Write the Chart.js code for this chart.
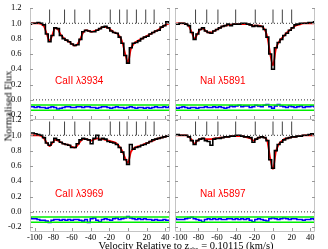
<!DOCTYPE html>
<html><head><meta charset="utf-8">
<script src="https://cdn.jsdelivr.net/npm/chart.js@4"></script>
<style>
html,body{margin:0;padding:0;background:#fff;}
body{width:328px;height:249px;position:relative;overflow:hidden;}
canvas{position:absolute;}
.lab{position:absolute;color:#f00;font:10px "Liberation Sans",Arial,sans-serif;white-space:nowrap;line-height:10px;}
.ttl{position:absolute;font:10.5px "Liberation Serif","Times New Roman",serif;white-space:nowrap;line-height:11px;color:#000;}
.ttl sub{font-size:7px;vertical-align:-2px;line-height:0;}
</style></head><body>
<canvas id="c0" width="172" height="121" style="left:0;top:0"></canvas>
<canvas id="c1" width="145" height="121" style="left:173px;top:0"></canvas>
<canvas id="c2" width="172" height="137" style="left:0;top:112px"></canvas>
<canvas id="c3" width="145" height="137" style="left:173px;top:112px"></canvas>
<div class="lab" style="left:55px;top:76px">CaII λ3934</div>
<div class="lab" style="left:200px;top:76px">NaI λ5891</div>
<div class="lab" style="left:55px;top:189px">CaII λ3969</div>
<div class="lab" style="left:200px;top:189px">NaI λ5897</div>
<div class="ttl" style="left:8px;top:106px;transform:translate(-50%,-50%) rotate(-90deg)">Normalised Flux</div>
<div class="ttl" style="left:186px;top:245px;transform:translate(-50%,-50%)">Velocity Relative to z<sub>abs</sub> = 0.10115 (km/s)</div>
<script>
const velocity = [-105,-102,-99,-96,-93,-90,-87,-84,-81,-78,-75,-72,-69,-66,-63,-60,-57,-54,-51,-48,-45,-42,-39,-36,-33,-30,-27,-24,-21,-18,-15,-12,-9,-6,-3,0,3,6,9,12,15,18,21,24,27,30,33,36,39,42,45];

const ca3934Flux = [0.99,1.00,1.00,1.01,1.00,0.98,0.86,0.76,0.84,0.94,0.93,0.84,0.80,0.78,0.76,0.73,0.71,0.72,0.79,0.89,0.91,0.90,0.89,0.89,0.91,0.93,0.95,0.96,0.94,0.90,0.88,0.87,0.82,0.74,0.58,0.48,0.68,0.74,0.75,0.77,0.80,0.82,0.83,0.86,0.88,0.90,0.91,0.95,0.97,1.02,1.01];
const ca3934Model = [1.00,1.00,1.00,1.00,0.99,0.96,0.86,0.77,0.85,0.94,0.92,0.85,0.81,0.78,0.76,0.73,0.71,0.73,0.80,0.88,0.91,0.90,0.89,0.90,0.91,0.93,0.95,0.95,0.94,0.91,0.88,0.87,0.83,0.75,0.60,0.49,0.66,0.73,0.76,0.78,0.80,0.82,0.84,0.86,0.88,0.90,0.92,0.95,0.97,0.99,1.00];
const ca3934Resid = [-0.09,-0.09,-0.10,-0.09,-0.10,-0.10,-0.11,-0.10,-0.09,-0.10,-0.12,-0.11,-0.10,-0.09,-0.09,-0.10,-0.10,-0.09,-0.09,-0.10,-0.09,-0.09,-0.10,-0.10,-0.11,-0.10,-0.09,-0.09,-0.10,-0.11,-0.10,-0.09,-0.10,-0.10,-0.11,-0.10,-0.09,-0.10,-0.11,-0.10,-0.10,-0.11,-0.10,-0.11,-0.10,-0.09,-0.10,-0.10,-0.09,-0.10,-0.09];

const na5891Flux = [0.99,0.99,1.00,1.00,0.99,0.97,0.88,0.79,0.86,0.92,0.94,0.90,0.88,0.87,0.90,0.92,0.94,0.96,0.97,0.99,0.97,0.99,0.99,0.99,1.00,1.00,0.99,0.98,0.96,0.97,0.96,0.96,0.92,0.82,0.60,0.40,0.68,0.75,0.79,0.84,0.87,0.91,0.94,0.98,0.99,1.00,1.00,1.00,1.01,1.01,1.02];
const na5891Model = [1.00,1.00,1.00,1.00,0.99,0.96,0.88,0.80,0.86,0.92,0.93,0.90,0.88,0.88,0.90,0.92,0.94,0.96,0.97,0.98,0.98,0.99,0.99,0.99,0.99,0.99,0.99,0.98,0.97,0.97,0.97,0.96,0.92,0.82,0.60,0.45,0.66,0.75,0.80,0.84,0.88,0.91,0.94,0.97,0.98,0.99,1.00,1.00,1.00,1.00,1.00];
const na5891Resid = [-0.10,-0.11,-0.10,-0.09,-0.10,-0.11,-0.10,-0.10,-0.11,-0.10,-0.10,-0.09,-0.10,-0.10,-0.09,-0.10,-0.09,-0.10,-0.11,-0.10,-0.08,-0.09,-0.08,-0.07,-0.09,-0.08,-0.08,-0.10,-0.09,-0.07,-0.08,-0.09,-0.07,-0.06,-0.09,-0.11,-0.08,-0.06,-0.08,-0.09,-0.10,-0.08,-0.09,-0.10,-0.09,-0.08,-0.10,-0.09,-0.09,-0.08,-0.09];

const ca3969Flux = [1.03,1.03,1.02,1.01,1.00,0.97,0.90,0.87,0.91,0.96,0.94,0.91,0.89,0.88,0.87,0.84,0.84,0.89,0.94,0.96,0.95,0.94,0.89,0.96,1.00,0.94,0.96,0.95,0.92,0.91,0.90,0.88,0.84,0.78,0.68,0.62,0.88,0.82,0.84,0.85,0.87,0.88,0.90,0.92,0.94,0.95,0.96,0.97,0.98,0.99,1.00];
const ca3969Model = [1.00,1.00,1.00,1.00,0.99,0.96,0.90,0.86,0.90,0.94,0.93,0.91,0.89,0.88,0.87,0.85,0.84,0.87,0.92,0.95,0.95,0.94,0.93,0.95,0.96,0.95,0.95,0.94,0.93,0.92,0.91,0.89,0.85,0.79,0.70,0.64,0.78,0.83,0.85,0.86,0.87,0.89,0.90,0.92,0.93,0.95,0.96,0.97,0.98,0.99,1.00];
const ca3969Resid = [-0.08,-0.09,-0.09,-0.10,-0.11,-0.11,-0.12,-0.14,-0.11,-0.10,-0.10,-0.11,-0.10,-0.11,-0.10,-0.11,-0.10,-0.10,-0.11,-0.12,-0.10,-0.14,-0.09,-0.08,-0.11,-0.13,-0.10,-0.09,-0.10,-0.11,-0.09,-0.08,-0.10,-0.09,-0.08,-0.06,-0.08,-0.09,-0.10,-0.09,-0.10,-0.09,-0.10,-0.10,-0.11,-0.10,-0.11,-0.11,-0.10,-0.11,-0.11];

const na5897Flux = [1.01,1.01,1.00,1.00,1.00,0.98,0.93,0.88,0.93,0.95,0.96,0.93,0.92,0.87,0.95,0.96,0.96,0.97,0.98,0.98,0.99,0.99,1.00,1.00,0.99,0.98,0.98,0.97,0.91,0.95,0.97,0.98,0.97,0.93,0.68,0.57,0.80,0.88,0.91,0.94,0.96,0.97,0.98,0.98,0.99,0.99,1.00,1.00,1.01,1.02,1.01];
const na5897Model = [1.00,1.00,1.00,1.00,1.00,0.98,0.94,0.89,0.93,0.95,0.96,0.95,0.95,0.95,0.96,0.96,0.97,0.97,0.98,0.98,0.99,0.99,0.99,0.99,0.99,0.98,0.97,0.96,0.93,0.95,0.97,0.98,0.97,0.92,0.70,0.56,0.78,0.88,0.92,0.95,0.96,0.97,0.98,0.98,0.99,0.99,1.00,1.00,1.00,1.00,1.00];
const na5897Resid = [-0.09,-0.10,-0.10,-0.10,-0.09,-0.08,-0.07,-0.09,-0.10,-0.11,-0.13,-0.10,-0.09,-0.10,-0.09,-0.10,-0.09,-0.10,-0.10,-0.09,-0.09,-0.10,-0.09,-0.10,-0.09,-0.10,-0.09,-0.11,-0.13,-0.10,-0.09,-0.10,-0.11,-0.12,-0.09,-0.08,-0.09,-0.10,-0.09,-0.08,-0.09,-0.10,-0.09,-0.09,-0.10,-0.10,-0.11,-0.10,-0.10,-0.09,-0.10];

const caComponents = [-84,-68,-57,-41,-19,-9,-1,9,19,28];
const naComponents = [-83,-71,-59,-40,-19,0,10,20];

const residBand = [-0.068,-0.135];
const velRange = [-105,45];
const fluxRange = [-0.25,1.2];
const yTicks = [-0.2,0.0,0.2,0.4,0.6,0.8,1.0,1.2];
const xTicks = [-100,-80,-60,-40,-20,0,20,40];
const markTop = 1.18;

const frameColor = '#c4c4c4';
const tickFont = '8.5px "Liberation Serif","Times New Roman",serif';

// Frame, inward tick marks and tick labels, all placed through the chart's own scales.
const axesDecor = {
  id:'axesDecor',
  afterDraw(chart, args, o){
    const {ctx, chartArea:a, scales} = chart;
    const xs = scales.x, ys = scales.y;
    ctx.save();
    ctx.strokeStyle = frameColor;
    ctx.lineWidth = 1;
    ctx.beginPath();
    ctx.moveTo(a.left+0.5, a.top); ctx.lineTo(a.left+0.5, a.bottom+0.5);
    ctx.lineTo(a.right-0.5, a.bottom+0.5); ctx.lineTo(a.right-0.5, a.top);
    ctx.stroke();
    ctx.strokeStyle = '#999';
    ctx.beginPath();
    yTicks.forEach(v=>{
      const p = Math.round(ys.getPixelForValue(v))+0.5;
      ctx.moveTo(a.left, p); ctx.lineTo(a.left+3, p);
      ctx.moveTo(a.right, p); ctx.lineTo(a.right-3, p);
    });
    xTicks.forEach(v=>{
      const p = Math.round(xs.getPixelForValue(v))+0.5;
      ctx.moveTo(p, a.bottom); ctx.lineTo(p, a.bottom-3);
    });
    ctx.stroke();
    ctx.fillStyle = '#000';
    ctx.font = tickFont;
    if (o.yLabels){
      ctx.textAlign = 'right'; ctx.textBaseline = 'middle';
      yTicks.forEach(v=> ctx.fillText(v.toFixed(1), a.left-8.5, ys.getPixelForValue(v)));
    }
    if (o.xLabels){
      ctx.textAlign = 'center'; ctx.textBaseline = 'top';
      xTicks.forEach(v=> ctx.fillText(String(v), xs.getPixelForValue(v), a.bottom+2.5));
    }
    ctx.restore();
  }
};

function xy(vals){ return velocity.map((v,i)=>({x:v, y:vals[i]})); }
function marks(list){
  const out = [];
  list.forEach(v=>{ out.push({x:v,y:1.0}); out.push({x:v,y:markTop}); out.push({x:v,y:null}); });
  return out;
}
function hline(y){ return [{x:velRange[0],y:y},{x:velRange[1],y:y}]; }

function panel(id, flux, model, resid, comps, opt){
  const ds = [
    {data:hline(1.0), borderColor:'#333', borderWidth:1, borderDash:[1,2]},
    {data:hline(0.0), borderColor:'#333', borderWidth:1, borderDash:[1,2]},
    {data:marks(comps), borderColor:'#444', borderWidth:1, spanGaps:false},
    {data:hline(residBand[0]), borderColor:'#00ee00', borderWidth:1.5},
    {data:hline(residBand[1]), borderColor:'#00ee00', borderWidth:1.5},
    {data:xy(resid), borderColor:'#0000ff', borderWidth:1.5, stepped:'middle'},
    {data:xy(flux), borderColor:'#000', borderWidth:1.6, stepped:'middle'},
    {data:xy(model), borderColor:'#ff0000', borderWidth:1.8, cubicInterpolationMode:'monotone'}
  ];
  ds.forEach(d=>{ d.pointRadius = 0; d.fill = false; });
  new Chart(document.getElementById(id), {
    type:'line',
    data:{datasets:ds},
    plugins:[axesDecor],
    options:{
      responsive:false, animation:false, devicePixelRatio:1, events:[],
      layout:{padding:opt.pad},
      plugins:{legend:{display:false}, tooltip:{enabled:false},
               axesDecor:{xLabels:opt.xLabels, yLabels:opt.yLabels}},
      scales:{
        x:{type:'linear', display:false, min:velRange[0], max:velRange[1]},
        y:{type:'linear', display:false, min:fluxRange[0], max:fluxRange[1]}
      }
    }
  });
}

panel('c0', ca3934Flux, ca3934Model, ca3934Resid, caComponents, {pad:{left:30,top:8,right:2,bottom:2}, xLabels:false, yLabels:true});
panel('c1', na5891Flux, na5891Model, na5891Resid, naComponents, {pad:{left:2,top:8,right:3,bottom:2}, xLabels:false, yLabels:false});
panel('c2', ca3969Flux, ca3969Model, ca3969Resid, caComponents, {pad:{left:30,top:8,right:2,bottom:18}, xLabels:true, yLabels:true});
panel('c3', na5897Flux, na5897Model, na5897Resid, naComponents, {pad:{left:2,top:8,right:3,bottom:18}, xLabels:true, yLabels:false});
</script>
</body></html>
